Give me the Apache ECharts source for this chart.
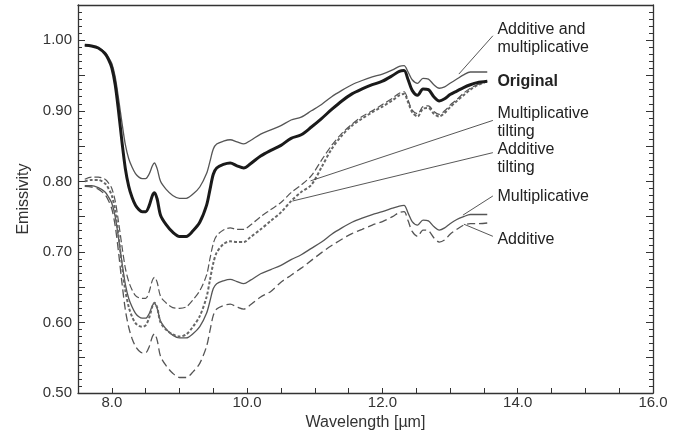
<!DOCTYPE html>
<html><head><meta charset="utf-8">
<script src="https://cdn.jsdelivr.net/npm/echarts@6/dist/echarts.min.js"></script>
<style>html,body{margin:0;padding:0;background:#fff}#c{width:686px;height:442px}</style>
</head><body><div id="c"></div><script>
// ---- data ----
const wavelength = [7.60,7.70,7.80,7.90,7.95,8.00,8.05,8.10,8.15,8.20,8.25,8.30,8.35,8.40,8.45,8.50,8.55,8.60,8.63,8.67,8.72,8.80,8.90,9.00,9.10,9.20,9.30,9.40,9.45,9.50,9.55,9.65,9.75,9.85,9.95,10.05,10.20,10.35,10.50,10.65,10.80,10.95,11.10,11.25,11.40,11.55,11.70,11.85,12.00,12.15,12.25,12.32,12.38,12.44,12.52,12.60,12.68,12.76,12.84,12.92,13.00,13.10,13.20,13.30,13.40,13.55];
const original = [0.993,0.992,0.989,0.981,0.973,0.961,0.937,0.899,0.856,0.818, 0.793,0.777,0.766,0.760,0.757,0.757,0.765,0.780,0.784,0.775, 0.752,0.739,0.728,0.722,0.722,0.730,0.742,0.766,0.788,0.810, 0.819,0.824,0.826,0.822,0.819,0.825,0.836,0.844,0.851,0.861, 0.866,0.877,0.889,0.902,0.914,0.924,0.931,0.937,0.942,0.950, 0.956,0.957,0.944,0.929,0.922,0.931,0.930,0.920,0.914,0.917, 0.923,0.928,0.933,0.937,0.940,0.942];
const additiveAndMultiplicative = [0.993,0.992,0.989,0.983,0.976,0.967,0.948,0.917,0.883,0.852, 0.832,0.820,0.811,0.806,0.804,0.804,0.810,0.822,0.826,0.818, 0.800,0.789,0.780,0.776,0.776,0.782,0.792,0.811,0.828,0.846, 0.853,0.857,0.859,0.856,0.853,0.858,0.867,0.873,0.879,0.887, 0.891,0.900,0.909,0.920,0.929,0.937,0.943,0.948,0.952,0.958, 0.963,0.964,0.955,0.944,0.939,0.946,0.945,0.937,0.932,0.934, 0.939,0.945,0.951,0.955,0.955,0.955];
const multiplicativeTilting = [0.803,0.806,0.806,0.803,0.798,0.790,0.772,0.742,0.708,0.677, 0.658,0.646,0.638,0.635,0.634,0.634,0.643,0.660,0.664,0.657, 0.637,0.628,0.621,0.620,0.622,0.632,0.645,0.667,0.690,0.712, 0.723,0.731,0.734,0.732,0.732,0.738,0.750,0.760,0.770,0.784, 0.795,0.808,0.830,0.851,0.868,0.881,0.892,0.900,0.909,0.918, 0.925,0.927,0.915,0.901,0.896,0.906,0.907,0.899,0.895,0.900, 0.908,0.916,0.925,0.932,0.937,0.942];
const additiveTilting = [0.800,0.802,0.802,0.797,0.790,0.780,0.758,0.722,0.681,0.645, 0.622,0.608,0.599,0.595,0.594,0.596,0.606,0.623,0.628,0.621, 0.600,0.590,0.583,0.580,0.583,0.594,0.609,0.636,0.660,0.684, 0.699,0.711,0.715,0.714,0.714,0.721,0.732,0.744,0.756,0.772, 0.785,0.795,0.820,0.846,0.865,0.879,0.889,0.898,0.906,0.915, 0.922,0.924,0.912,0.898,0.892,0.903,0.904,0.896,0.892,0.897, 0.905,0.914,0.922,0.930,0.936,0.942];
const multiplicative = [0.794,0.794,0.791,0.785,0.778,0.769,0.750,0.719,0.685,0.654, 0.634,0.622,0.613,0.608,0.606,0.606,0.612,0.624,0.627,0.620, 0.602,0.591,0.582,0.578,0.578,0.584,0.594,0.613,0.630,0.648, 0.655,0.659,0.661,0.658,0.655,0.660,0.669,0.675,0.681,0.689, 0.696,0.705,0.714,0.725,0.734,0.742,0.748,0.753,0.757,0.762, 0.765,0.766,0.755,0.743,0.738,0.745,0.744,0.736,0.731,0.734, 0.740,0.746,0.750,0.753,0.753,0.753];
const additive = [0.793,0.792,0.789,0.781,0.773,0.761,0.737,0.699,0.656,0.618, 0.593,0.577,0.566,0.560,0.557,0.557,0.565,0.580,0.584,0.575, 0.552,0.539,0.528,0.522,0.522,0.530,0.542,0.566,0.588,0.610, 0.619,0.624,0.626,0.622,0.619,0.625,0.636,0.644,0.657,0.667, 0.677,0.688,0.699,0.709,0.718,0.726,0.732,0.738,0.743,0.750, 0.756,0.757,0.744,0.729,0.722,0.731,0.730,0.720,0.714,0.717, 0.725,0.732,0.738,0.740,0.740,0.741];

const xTickLabels = ['8.0','10.0','12.0','14.0','16.0'];
const yTickLabels = ['0.50','0.60','0.70','0.80','0.90','1.00'];

// annotation texts, their anchor (data space) and leader line ends (data space)
const annotationTexts = ['Additive and\nmultiplicative','Original','Multiplicative\ntilting','Additive\ntilting','Multiplicative','Additive'];
const annotationAnchor = [[13.70,1.0021],[13.70,0.942],[13.70,0.8836],[13.70,0.8329],[13.70,0.7779],[13.70,0.7179]];
const leaderStart = [[13.633,1.0064],null,[13.633,0.8864],[13.633,0.8407],[13.633,0.7793],[13.633,0.7221]];
const leaderEnd = [[13.13,0.9521],null,[10.937,0.8007],[10.67,0.7721],[13.19,0.7521],[13.204,0.7393]];

const FONT = '"Liberation Sans", Arial, Helvetica, sans-serif';
const chart = echarts.init(document.getElementById('c'), null, {renderer:'canvas'});
const pairs = ys => wavelength.map((x,i)=>[x, ys[i]]);
const lineSeries = (name, ys, color, width, type, z) => ({
  name, type:'line', data: pairs(ys), showSymbol:false, symbol:'none', smooth:0.3,
  lineStyle:{color, width, type}, z, silent:true, xAxisIndex:0, yAxisIndex:0
});

const axisLineStyle = {color:'#333', width:1.3};
chart.setOption({
  animation:false,
  textStyle:{fontFamily:FONT},
  grid:{left:78, right:33, top:5, bottom:49, containLabel:false},
  xAxis:[{
    type:'value', min:7.5, max:16, interval:0.5, position:'bottom',
    axisLine:{show:true, onZero:false, lineStyle:axisLineStyle},
    axisTick:{show:true, inside:true, length:5, lineStyle:{color:'#333', width:1}},
    splitLine:{show:false},
    axisLabel:{fontSize:15, color:'#333', margin:2, fontFamily:FONT,
      formatter: v => { const s=v.toFixed(1); return xTickLabels.includes(s)?s:''; }},
    name:'Wavelength [µm]', nameLocation:'middle', nameGap:18,
    nameTextStyle:{fontSize:16, color:'#333', fontFamily:FONT}
  },{
    type:'value', min:7.5, max:16, position:'top',
    axisLine:{show:true, onZero:false, lineStyle:axisLineStyle},
    axisTick:{show:false}, axisLabel:{show:false}, splitLine:{show:false}
  }],
  yAxis:[{
    type:'value', min:0.5, max:1.05, interval:0.05, position:'left',
    axisLine:{show:true, onZero:false, lineStyle:axisLineStyle},
    axisTick:{show:true, inside:true, length:7, lineStyle:{color:'#333', width:1}},
    minorTick:{show:true, splitNumber:5, length:4, lineStyle:{color:'#333', width:1}},
    splitLine:{show:false},
    axisLabel:{fontSize:15, color:'#333', margin:6, fontFamily:FONT,
      formatter: v => { const s=v.toFixed(2); return yTickLabels.includes(s)?s:''; }},
    name:'Emissivity', nameLocation:'middle', nameGap:46,
    nameTextStyle:{fontSize:16, color:'#333', fontFamily:FONT}
  },{
    type:'value', min:0.5, max:1.05, interval:0.05, position:'right',
    axisLine:{show:true, onZero:false, lineStyle:axisLineStyle},
    axisTick:{show:true, inside:true, length:7, lineStyle:{color:'#333', width:1}},
    minorTick:{show:true, splitNumber:5, length:4, lineStyle:{color:'#333', width:1}},
    axisLabel:{show:false}, splitLine:{show:false}
  }],
  series:[
    lineSeries('Additive', additive, '#555', 1.3, [8,4], 2),
    lineSeries('Multiplicative', multiplicative, '#555', 1.3, 'solid', 2),
    lineSeries('Additive tilting', additiveTilting, '#666', 2, [3,2], 3),
    lineSeries('Multiplicative tilting', multiplicativeTilting, '#555', 1.2, [7,3], 3),
    lineSeries('Additive and multiplicative', additiveAndMultiplicative, '#555', 1.3, 'solid', 4),
    lineSeries('Original', original, '#1a1a1a', 3, 'solid', 5)
  ]
});

const toPx = p => chart.convertToPixel({xAxisIndex:0, yAxisIndex:0}, p);
const graphics = [];
annotationTexts.forEach((t,i)=>{
  const a = toPx(annotationAnchor[i]);
  graphics.push({type:'text', x:a[0], y:a[1], silent:true, z:10,
    style:{text:t, fill:'#222', fontSize:16, lineHeight:18, fontFamily:FONT,
      fontWeight: t==='Original' ? 'bold' : 'normal', align:'left', verticalAlign:'middle'}});
  if (leaderStart[i]) {
    const s = toPx(leaderStart[i]), e = toPx(leaderEnd[i]);
    graphics.push({type:'line', silent:true, z:10,
      shape:{x1:s[0], y1:s[1], x2:e[0], y2:e[1]}, style:{stroke:'#444', lineWidth:0.9}});
  }
});
chart.setOption({graphic: graphics});
</script></body></html>
